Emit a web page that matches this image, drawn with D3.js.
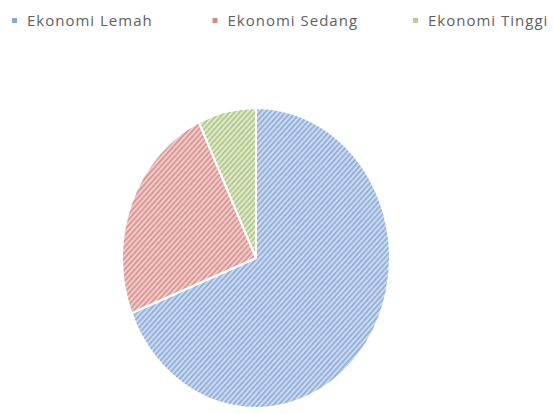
<!doctype html>
<meta charset="utf-8">
<script src="https://d3js.org/d3.v7.min.js"></script>
<style>
  body { margin: 0; background: #fff; }
</style>
<body>
<script>

var width = 553;
var height = 414;

// data (percent of the whole)
var categories = ["Ekonomi Lemah", "Ekonomi Sedang", "Ekonomi Tinggi"];
var values = [69, 24, 7];
var lightColors = ["#c8dbf3", "#f5c9c7", "#dfeac6"];
var darkColors = ["#8aa5cf", "#cd8e8c", "#a8c084"];
var markerColors = ["#8fa8c8", "#d08c8a", "#b9cc93"];

var svg = d3.select("body")
        .append("svg")
        .attr("width", width)
        .attr("height", height);

// hatch patterns, one per slice
var step = 3.6;
var defs = svg.append("defs");
categories.forEach(function(c, i) {
    var p = defs.append("pattern")
            .attr("id", "hatch" + i)
            .attr("patternUnits", "userSpaceOnUse")
            .attr("width", step)
            .attr("height", step)
            .attr("patternTransform", "rotate(45)");
    p.append("rect")
            .attr("width", step)
            .attr("height", step)
            .attr("fill", lightColors[i]);
    p.append("line")
            .attr("x1", 0.8).attr("y1", 0)
            .attr("x2", 0.8).attr("y2", step)
            .attr("stroke", darkColors[i])
            .attr("stroke-width", 1.4);
});

// legend
var legendX = d3.scalePoint()
        .domain(categories)
        .range([12, 413]);

var legend = svg.selectAll("g.legend")
        .data(categories)
        .enter()
        .append("g")
        .attr("class", "legend")
        .attr("transform", function(d) { return "translate(" + legendX(d) + ",0)"; });

legend.append("rect")
        .attr("x", 0)
        .attr("y", 18)
        .attr("width", 5)
        .attr("height", 5)
        .attr("fill", function(d, i) { return markerColors[i]; });

legend.append("text")
        .attr("x", 15)
        .attr("y", 26)
        .attr("font-family", "Open Sans, sans-serif")
        .attr("font-size", 15)
        .attr("letter-spacing", 1)
        .attr("fill", "#5f5f5f")
        .text(function(d) { return d; });

// pie (slightly taller than wide, as in the picture)
var cx = 256, cy = 258, rx = 134, ry = 150;

var pie = d3.pie()
        .sort(null)
        .value(function(d) { return d; });

var arc = d3.arc()
        .innerRadius(0)
        .outerRadius(rx);

var g = svg.append("g")
        .attr("transform", "translate(" + cx + "," + cy + ") scale(1," + (ry / rx) + ")");

g.selectAll("path")
        .data(pie(values))
        .enter()
        .append("path")
        .attr("d", arc)
        .attr("fill", function(d, i) { return "url(#hatch" + i + ")"; })
        .attr("stroke", "#fff")
        .attr("stroke-width", 2)
        .attr("stroke-linejoin", "round");

</script>
